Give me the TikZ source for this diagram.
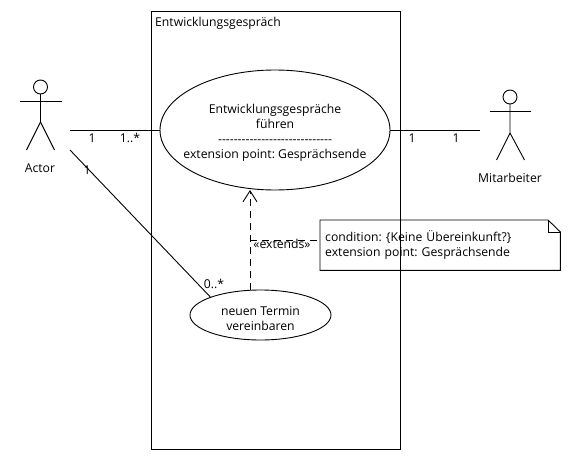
\documentclass[tikz,border=0pt]{standalone}
\usepackage{fontspec}
\usepackage{tikz}
\usetikzlibrary{arrows.meta,shapes.geometric}
\newfontfamily\umlfont{Open Sans}
\tikzset{
	umlline/.style = {line width = 0.9pt},
	usecase/.style = {draw, ellipse, inner sep = 0pt, align = center, umlline},
	linkdash/.style = {umlline, dash pattern = on 7pt off 5pt},
	multi/.style = {inner sep = 0pt}
}

\begin{document}
\begin{tikzpicture}[x = 1pt, y = -1pt, font = \umlfont\fontsize{12.2}{15}\selectfont\frenchspacing]
		\useasboundingbox (0,0) rectangle (570,460);
		\draw[umlline] (151,11) rectangle (400,449);
		\node[multi, anchor = west] (title) at (155,23) {Entwicklungsgespräch};
		
		\draw[umlline] (40.5,87) circle (7);
		\draw[umlline] (40.5,94) -- (40.5,122) -- (26.5,150);
		\draw[umlline] (40.5,122) -- (54.5,150);
		\draw[umlline] (19.5,101) -- (61.5,101);
		\node[multi] (actor) at (40,168) {Actor};
		
		\draw[umlline] (510,97) circle (7);
		\draw[umlline] (510,104) -- (510,133) -- (496.5,160);
		\draw[umlline] (510,133) -- (524.5,160);
		\draw[umlline] (489.5,111) -- (531,111);
		\node[multi] (mitarbeiter) at (510,178) {Mitarbeiter};
		
		\node[usecase, inner xsep = -12pt, minimum width = 230, minimum height = 120] (gespraech) at (275,130) {\rule{0pt}{15pt}Entwicklungsgespräche\\ führen\\ -----------------------------\\ extension point: Gesprächsende};
		\node[usecase, minimum width = 141, minimum height = 50] (termin) at (260.5,315) {\rule{0pt}{16pt}neuen Termin\\ vereinbaren};
		
		\node[multi, anchor = north west, minimum width = 240, minimum height = 50, text width = 230, inner xsep = 5, align = left, inner ysep = 4] (note) at (320,220) {condition: \{Keine Übereinkunft?\}\\ extension point: Gesprächsende};
		\draw[umlline] (note.north west) -- (548,220) -- (note.north east |- 0,232) -- (note.south east) -- (note.south west) -- cycle;
		\draw[umlline] (548,220) -- (548,232) -- (note.north east |- 0,232);
		
		\coordinate (actorend) at (70,130);
		\coordinate (actorlow) at (70,150);
		\coordinate (mitarbeiterend) at (480,130);
		\coordinate (terminup) at (250,290);
		\coordinate (gespraechlow) at (250,190);
		\coordinate (linkstart) at (250,240);
		\coordinate (linkend) at (320,240);
		
		\draw[umlline] (actorend) -- (gespraech.west);
		\draw[umlline] (gespraech.east) -- (mitarbeiterend);
		\draw[umlline] (actorlow) -- (termin.north west);
		\draw[linkdash, -{Straight Barb[length = 11pt, width = 14pt]}] (terminup) -- (gespraechlow);
		\draw[linkdash] (linkstart) -- (linkend);
		
		\node[multi] (a1) at (92,138) {1};
		\node[multi] (a2) at (130,138) {1..*};
		\node[multi] (a3) at (87,170) {1};
		\node[multi] (a4) at (214,284) {0..*};
		\node[multi] (m1) at (412,138) {1};
		\node[multi] (m2) at (456,138) {1};
		\node[multi] (extends) at (282,244) {«extends»};
\end{tikzpicture}
\end{document}
